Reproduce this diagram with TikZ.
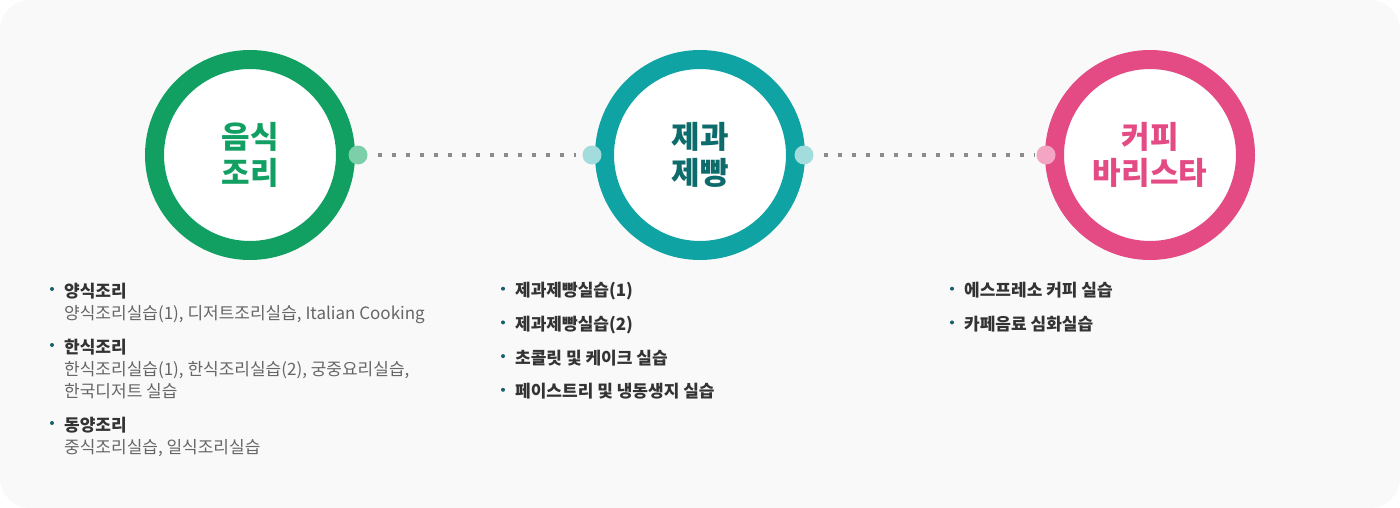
\documentclass[tikz,border=0pt]{standalone}
\usepackage{fontspec}
\setmainfont{Noto Sans CJK KR}
\usepackage{tikz}
\usetikzlibrary{positioning}
\definecolor{panelgray}{HTML}{F9F9F9}
\definecolor{cookgreen}{HTML}{12A062}
\definecolor{cooklight}{HTML}{7DCFAA}
\definecolor{baketeal}{HTML}{10A3A3}
\definecolor{baketext}{HTML}{0E6B6B}
\definecolor{bakelight}{HTML}{A3DCDC}
\definecolor{cafepink}{HTML}{E44A84}
\definecolor{cafelight}{HTML}{F5A5C4}
\definecolor{dotgray}{HTML}{8C8C8C}
\definecolor{bulletteal}{HTML}{17606E}
\definecolor{headgray}{HTML}{333333}
\definecolor{subgray}{HTML}{666666}

\begin{document}
\begin{tikzpicture}[
    x=1pt, y=-1pt,
    every node/.style={font=\fontsize{17}{22}\selectfont},
    ring/.style={
        circle,
        draw=#1,
        line width=19pt,
        fill=white,
        minimum size=191pt,
        inner sep=0pt,
        align=center,
        font=\fontsize{31}{36}\selectfont\bfseries
    },
    joint/.style={circle, fill=#1, minimum size=19pt, inner sep=0pt},
    dots/.style={draw=dotgray, line width=4pt, dash pattern=on 4pt off 10pt},
    dotbullet/.style={circle, fill=bulletteal, minimum size=4pt, inner sep=0pt},
    itemhead/.style={anchor=base west, inner sep=0pt, text=headgray, font=\fontsize{17}{22}\selectfont\bfseries},
    itemsub/.style={anchor=base west, inner sep=0pt, text=subgray}
]

% PANEL
\fill[panelgray, rounded corners=30pt] (0,0) rectangle (1400,508);
\useasboundingbox (0,0) rectangle (1400,508);

% CIRCLES
\node[ring=cookgreen, text=cookgreen] (cook) at (250,155) {음식\\조리};
\node[ring=baketeal, text=baketext] (bake) at (700,155) {제과\\제빵};
\node[ring=cafepink, text=cafepink] (cafe) at (1150,155) {커피\\바리스타};

\node[joint=cooklight] (cookR) at ([xshift=3pt]cook.east) {};
\node[joint=bakelight] (bakeL) at ([xshift=-3pt]bake.west) {};
\node[joint=bakelight] (bakeR) at ([xshift=-1pt]bake.east) {};
\node[joint=cafelight] (cafeL) at ([xshift=1pt]cafe.west) {};

% CONNECTORS
\draw[dots, shorten <=10pt, shorten >=6pt] (cookR) -- (bakeL);
\draw[dots, shorten <=10pt, shorten >=2pt] (bakeR) -- (cafeL);

% COOKING LIST
\node[dotbullet] (b1) at (52,289) {};
\node[itemhead] (western) at (64,297) {양식조리};
\node[itemsub] (westernsub) at (64,319) {양식조리실습(1), 디저트조리실습, Italian Cooking};
\node[dotbullet] (b2) at (52,345) {};
\node[itemhead] (korean) at (64,353) {한식조리};
\node[itemsub] (koreansub) at (64,375) {한식조리실습(1), 한식조리실습(2), 궁중요리실습,};
\node[itemsub] (koreansubb) at (64,397) {한국디저트 실습};
\node[dotbullet] (b3) at (52,423) {};
\node[itemhead] (eastern) at (64,431) {동양조리};
\node[itemsub] (easternsub) at (64,453) {중식조리실습, 일식조리실습};

% BAKING LIST
\foreach \txt [count=\i] in {제과제빵실습(1), 제과제빵실습(2), 초콜릿 및 케이크 실습, 페이스트리 및 냉동생지 실습} {
    \node[dotbullet] (bk\i) at (503,255+33.7*\i) {};
    \node[itemhead] (bake\i) at (515,263+33.7*\i) {\txt};
}

% CAFE LIST
\foreach \txt [count=\i] in {에스프레소 커피 실습, 카페음료 심화실습} {
    \node[dotbullet] (cf\i) at (952,255+33.7*\i) {};
    \node[itemhead] (cafe\i) at (964,263+33.7*\i) {\txt};
}

\end{tikzpicture}
\end{document}
